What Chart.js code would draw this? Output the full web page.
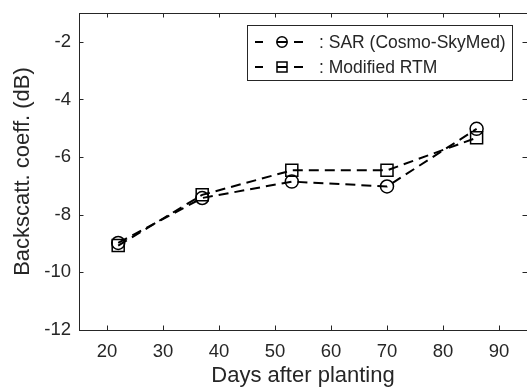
<!DOCTYPE html>
<html>
<head>
<meta charset="utf-8">
<script src="https://cdn.jsdelivr.net/npm/chart.js@4"></script>
<style>
  html, body { margin: 0; padding: 0; background: #fff; }
  #wrap { width: 527px; height: 389px; }
</style>
</head>
<body>
<div id="wrap"><canvas id="chart" width="527" height="389"></canvas></div>
<script>
const days = [22, 37, 53, 70, 86];
const sarValues = [-8.98, -7.42, -6.85, -7.02, -5.02];
const rtmValues = [-9.07, -7.31, -6.46, -6.46, -5.33];
const xTicks = [20, 30, 40, 50, 60, 70, 80, 90];
const yTicks = [-12, -10, -8, -6, -4, -2];
const seriesLabels = ['SAR (Cosmo-SkyMed)', 'Modified RTM'];

const FONT = '"Liberation Sans", Arial, sans-serif';
const INK = '#262626';
const TICK_LEN = 4.5;

// no extra room for end labels, the plot box is fixed
function noPadding(scale) {
  scale.paddingTop = 0;
  scale.paddingBottom = 0;
  scale.paddingLeft = 0;
  scale.paddingRight = 0;
}

// matlab style box: top line plus inward ticks on all four sides
// (the right edge of the box falls just outside the picture)
const boxPlugin = {
  id: 'box',
  afterDraw(chart) {
    const { ctx, chartArea: a, scales } = chart;
    ctx.save();
    ctx.strokeStyle = INK;
    ctx.lineWidth = 1;
    ctx.beginPath();
    ctx.moveTo(a.left, a.top + 0.5);
    ctx.lineTo(a.right, a.top + 0.5);
    xTicks.forEach(v => {
      const x = Math.round(scales.x.getPixelForValue(v)) + 0.5;
      ctx.moveTo(x, a.bottom);
      ctx.lineTo(x, a.bottom - TICK_LEN);
      ctx.moveTo(x, a.top);
      ctx.lineTo(x, a.top + TICK_LEN);
    });
    yTicks.forEach(v => {
      const y = Math.round(scales.y.getPixelForValue(v)) + 0.5;
      ctx.moveTo(a.left, y);
      ctx.lineTo(a.left + TICK_LEN, y);
      ctx.moveTo(a.right, y);
      ctx.lineTo(a.right - TICK_LEN, y);
    });
    ctx.stroke();

    // x tick labels, centred under each tick
    ctx.fillStyle = INK;
    ctx.font = '18.5px ' + FONT;
    ctx.textAlign = 'center';
    ctx.textBaseline = 'middle';
    xTicks.forEach(v => {
      ctx.fillText(String(v), scales.x.getPixelForValue(v), a.bottom + 22);
    });
    ctx.restore();
  }
};

// legend box in the upper right corner
const legendPlugin = {
  id: 'mlegend',
  afterDraw(chart) {
    const { ctx } = chart;
    const box = { left: 247.5, top: 25.5, right: 512.5, bottom: 80.5 };
    const rows = [42, 67];
    ctx.save();
    ctx.fillStyle = '#fff';
    ctx.fillRect(box.left, box.top, box.right - box.left, box.bottom - box.top);
    ctx.strokeStyle = INK;
    ctx.lineWidth = 1;
    ctx.strokeRect(box.left, box.top, box.right - box.left, box.bottom - box.top);

    chart.data.datasets.forEach((ds, i) => {
      const y = rows[i];
      ctx.strokeStyle = ds.borderColor;
      ctx.lineWidth = ds.borderWidth;
      ctx.beginPath();
      [[255, 263], [277, 287], [294, 303]].forEach(([x0, x1]) => {
        ctx.moveTo(x0, y);
        ctx.lineTo(x1, y);
      });
      ctx.stroke();
      ctx.lineWidth = ds.pointBorderWidth;
      ctx.beginPath();
      if (ds.pointStyle === 'rect') {
        ctx.rect(282 - 5, y - 5, 10, 10);
      } else {
        ctx.arc(282, y, 5.2, 0, Math.PI * 2);
      }
      ctx.stroke();

      ctx.fillStyle = INK;
      ctx.font = '17.5px ' + FONT;
      ctx.textBaseline = 'middle';
      ctx.textAlign = 'left';
      ctx.fillText(': ' + ds.label, 319, y + 1);
    });
    ctx.restore();
  }
};

new Chart(document.getElementById('chart'), {
  type: 'line',
  data: {
    datasets: [
      {
        label: seriesLabels[0],
        data: days.map((d, i) => ({ x: d, y: sarValues[i] })),
        borderColor: '#000',
        borderWidth: 2,
        borderDash: [10, 6],
        pointStyle: 'circle',
        pointRadius: 6.5,
        pointBorderWidth: 1.5,
        pointBorderColor: '#000',
        pointBackgroundColor: 'rgba(0,0,0,0)',
        tension: 0
      },
      {
        label: seriesLabels[1],
        data: days.map((d, i) => ({ x: d, y: rtmValues[i] })),
        borderColor: '#000',
        borderWidth: 2,
        borderDash: [10, 6],
        pointStyle: 'rect',
        pointRadius: 8.5,
        pointBorderWidth: 1.5,
        pointBorderColor: '#000',
        pointBackgroundColor: 'rgba(0,0,0,0)',
        tension: 0
      }
    ]
  },
  options: {
    responsive: false,
    animation: false,
    devicePixelRatio: 1,
    layout: { autoPadding: false, padding: { top: 13, right: 0, left: 0, bottom: 0 } },
    plugins: {
      legend: { display: false },
      tooltip: { enabled: false }
    },
    scales: {
      x: {
        type: 'linear',
        min: 15,
        max: 95,
        afterBuildTicks: scale => { scale.ticks = xTicks.map(v => ({ value: v })); },
        afterFit: scale => { scale.height = 59; noPadding(scale); },
        grid: { display: false, drawTicks: false },
        border: { display: true, color: INK, width: 1 },
        ticks: { display: false },
        title: {
          display: true,
          text: 'Days after planting',
          color: INK,
          font: { family: FONT, size: 22 },
          padding: { top: 0, bottom: 0 }
        }
      },
      y: {
        type: 'linear',
        min: -12,
        max: -1,
        afterBuildTicks: scale => { scale.ticks = yTicks.map(v => ({ value: v })); },
        afterFit: scale => { scale.width = 79; noPadding(scale); },
        grid: { display: false, drawTicks: false },
        border: { display: true, color: INK, width: 1 },
        ticks: { color: INK, font: { family: FONT, size: 18.5 }, padding: 8 },
        title: {
          display: true,
          text: 'Backscatt. coeff. (dB)',
          color: INK,
          font: { family: FONT, size: 22 },
          padding: { top: 10, bottom: 0 }
        }
      }
    }
  },
  plugins: [boxPlugin, legendPlugin]
});
</script>
</body>
</html>
